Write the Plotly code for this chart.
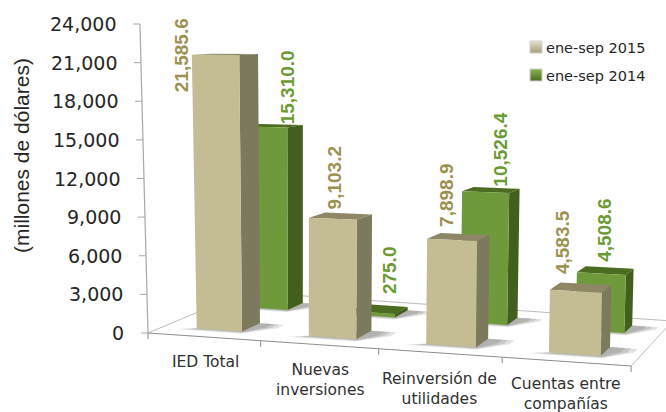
import plotly.graph_objects as go

categories = ["IED Total", "Nuevas<br>inversiones", "Reinversión de<br>utilidades", "Cuentas entre<br>compañías"]
series_names = ["ene-sep 2015", "ene-sep 2014"]
values_2015 = [21585.6, 9103.2, 7898.9, 4583.5]
values_2014 = [15310.0, 275.0, 10526.4, 4508.6]
y_ticks = [0, 3000, 6000, 9000, 12000, 15000, 18000, 21000, 24000]
y_title = "(millones de dólares)"

# perspective model of the chart box (pixel space of the 666x412 frame)
VMAX = 24000
HORIZON = 24
BAR_T = (0.30, 0.71)
DEPTH_2015 = (0.165, 0.367)
DEPTH_2014 = (0.68, 0.85)


def project(t, d, v=0):
    u = (109.9 * t + 2.72 * t * t) / 483
    x = (1 - d) * (148 + 483 * u) + d * (246 + 426.5 * u)
    y = (1 - d) * (333 + 33 * u) + d * (292 + 29 * u)
    f = v / VMAX
    k = 0.053 if x < 300 else 0.022
    return x + f * (x - 300) * k, HORIZON + (1 - f) * (y - HORIZON)


def poly(points):
    xs, ys = zip(*[project(*p) for p in points])
    return list(xs) + [xs[0], None], list(ys) + [ys[0], None]


def faces(values, depth):
    d0, d1 = depth
    out = {"front": ([], []), "side": ([], []), "top": ([], [])}
    for i, v in enumerate(values):
        t0, t1 = i + BAR_T[0], i + BAR_T[1]
        shapes = {
            "front": [(t0, d0, 0), (t1, d0, 0), (t1, d0, v), (t0, d0, v)],
            "side": [(t1, d0, 0), (t1, d1, 0), (t1, d1, v), (t1, d0, v)],
            "top": [(t0, d0, v), (t1, d0, v), (t1, d1, v), (t0, d1, v)],
        }
        for name, pts in shapes.items():
            px, py = poly(pts)
            out[name][0].extend(px)
            out[name][1].extend(py)
    return out


def shadow(values, depth, grow):
    d0, d1 = depth
    xs, ys = [], []
    for i in range(len(values)):
        t0, t1 = i + BAR_T[0], i + BAR_T[1]
        px, py = poly([(t0 - 0.06 - grow, d0 - 0.01 - grow / 3, 0), (t1 + 0.02, d0 - 0.01 - grow / 3, 0),
                       (t1 + 0.12 + grow, d0 + 0.12, 0), (t1 + 0.12 + grow, d1, 0), (t1, d1, 0), (t0, d0, 0)])
        xs += px
        ys += py
    return xs, ys


def fill_trace(xy, color, name):
    return go.Scatter(x=xy[0], y=xy[1], mode="lines", fill="toself", fillcolor=color,
                      line=dict(width=0, color=color), hoverinfo="skip", showlegend=False, name=name)


def line_trace(pts, color, width=1):
    xs, ys = zip(*pts)
    return go.Scatter(x=xs, y=ys, mode="lines", line=dict(color=color, width=width),
                      hoverinfo="skip", showlegend=False)


AXIS = "#A8A8A8"
fig = go.Figure()

# floor edges
fig.add_trace(line_trace([project(0, 0), project(0, 1), project(4, 1), project(4, 0)], "#BDBDBD"))
fig.add_trace(line_trace([project(0, 0), project(4, 0)], "#8C8C8C"))
# value axis
fig.add_trace(line_trace([project(0, 0, 0), project(0, 0, VMAX)], AXIS, 1.2))
for v in y_ticks:
    x, y = project(0, 0, v)
    fig.add_trace(line_trace([(x, y), (x - 7, y)], AXIS))
for i in range(len(categories) + 1):
    x, y = project(i, 0)
    fig.add_trace(line_trace([(x, y), (x, y + 6)], "#8C8C8C"))

SERIES = [
    (values_2014, DEPTH_2014, {"front": "#6F9A3B", "side": "#435F1F", "top": "#4C6C22"}),
    (values_2015, DEPTH_2015, {"front": "#C4BC92", "side": "#7D795C", "top": "#8D8667"}),
]
for values, depth, cols in SERIES:
    for g in (0.10, 0.05, 0.0):
        fig.add_trace(fill_trace(shadow(values, depth, g), "rgba(70,70,60,0.16)", "shadow"))
    f = faces(values, depth)
    for name in ("top", "side", "front"):
        fig.add_trace(fill_trace(f[name], cols[name], name))

# legend
legend_cols = [("#E4E0CC", "#A59E78"), ("#8DB14E", "#4C6C22")]
for (name, (c0, c1), yy) in zip(series_names, legend_cols, (47, 75)):
    fig.add_trace(go.Scatter(x=[536], y=[yy], mode="markers", showlegend=False, hoverinfo="skip",
                             marker=dict(symbol="square", size=12, color=c0,
                                         gradient=dict(type="vertical", color=c1),
                                         line=dict(color="#D0D0D0", width=1))))

ann = []


def text(x, y, s, size, color="#262626", family="DejaVu Sans", anchor="center", angle=0):
    ann.append(dict(x=x, y=y, xref="x", yref="y", text=s, showarrow=False, xanchor=anchor, yanchor="middle",
                    textangle=angle, align="center", font=dict(size=size, color=color, family=family)))


for v in y_ticks:
    x, y = project(0, 0, v)
    text(x - 22, y, f"{v:,}", 19, anchor="right")
text(21, 156, y_title, 21, family="Liberation Sans", angle=-90)

cat_pos = [(205, 362), (320, 380), (439, 389), (566, 394)]
for c, (x, y) in zip(categories, cat_pos):
    text(x, y, c, 15.5, color="#303030")

for name, yy in zip(series_names, (47.5, 75.5)):
    text(544, yy, name, 14.5, anchor="left")

LABEL_OFF = {
    "2015": [(-34, 0), (2, -41), (-5, -45), (-14, -49)],
    "2014": [(22, -40), (17, -42), (15, -42), (3, -43)],
}
for key, values, depth, col in (("2015", values_2015, DEPTH_2015, "#9C9150"),
                                ("2014", values_2014, DEPTH_2014, "#6C9A34")):
    for i, v in enumerate(values):
        x, y = project(i + (BAR_T[0] + BAR_T[1]) / 2, depth[0], v)
        dx, dy = LABEL_OFF[key][i]
        text(x + dx, y + dy, f"<b>{v:,.1f}</b>", 19, color=col, family="Liberation Sans", angle=-90)

fig.update_layout(
    width=666, height=412, margin=dict(l=0, r=0, t=0, b=0),
    paper_bgcolor="white", plot_bgcolor="white", showlegend=False, annotations=ann,
    xaxis=dict(range=[0, 666], visible=False, fixedrange=True),
    yaxis=dict(range=[412, 0], visible=False, fixedrange=True),
)
fig.write_html("out.html", post_script="document.body.style.margin='0';", config={"displayModeBar": False})
